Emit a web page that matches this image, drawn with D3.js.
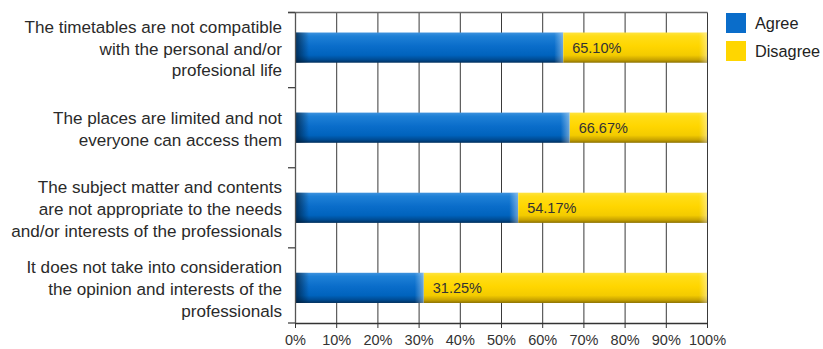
<!DOCTYPE html>
<html>
<head>
<meta charset="utf-8">
<script src="https://cdn.jsdelivr.net/npm/d3@7/dist/d3.min.js"></script>
<style>
  html, body { margin: 0; padding: 0; background: #fff; }
  svg { display: block; font-family: "Liberation Sans", Arial, Helvetica, sans-serif; }
</style>
</head>
<body>
<svg id="chart" width="823" height="349"></svg>
<script>
// Reasons, each label split into its display lines
const categories = [
  ["The timetables are not compatible", "with the personal and/or", "profesional life"],
  ["The places are limited and not", "everyone can access them"],
  ["The subject matter and contents", "are not appropriate to the needs", "and/or interests of the professionals"],
  ["It does not take into consideration", "the opinion and interests of the", "professionals"]
];
const agree = [65.10, 66.67, 54.17, 31.25];
const disagree = [34.90, 33.33, 45.83, 68.75];
const seriesNames = ["Agree", "Disagree"];
const xTicks = [0, 10, 20, 30, 40, 50, 60, 70, 80, 90, 100];

const svg = d3.select("#chart");
const keys = categories.map((c, i) => "c" + i);

const x = d3.scaleLinear().domain([0, 100]).range([295, 707]);
const y = d3.scaleBand().domain(keys).range([12.5, 323])
  .paddingInner(0.623).paddingOuter(0.25);

const rows = keys.map((k, i) => ({ key: k, lines: categories[i], agree: agree[i], disagree: disagree[i] }));
const bw = y.bandwidth();
const gap = y.step() - bw;

// ---- gradients for the shaded bars
const defs = svg.append("defs");
function vGrad(id, stops) {
  const g = defs.append("linearGradient").attr("id", id)
    .attr("x1", 0).attr("y1", 0).attr("x2", 0).attr("y2", 1);
  stops.forEach(s => g.append("stop").attr("offset", s[0]).attr("stop-color", s[1]));
}
function hGrad(id, color, o1, o2) {
  const g = defs.append("linearGradient").attr("id", id)
    .attr("x1", 0).attr("y1", 0).attr("x2", 1).attr("y2", 0);
  g.append("stop").attr("offset", 0).attr("stop-color", color).attr("stop-opacity", o1);
  g.append("stop").attr("offset", 1).attr("stop-color", color).attr("stop-opacity", o2);
}
vGrad("blueV", [[0, "#3d92de"], [0.12, "#1e80d6"], [0.45, "#0a6dca"], [0.75, "#0063bd"], [0.9, "#004b92"], [1, "#002f5c"]]);
vGrad("yellowV", [[0, "#ffe440"], [0.12, "#ffdd18"], [0.45, "#ffd600"], [0.75, "#f3cb00"], [0.9, "#c8a300"], [1, "#8a7000"]]);
hGrad("darkLeft", "#001a33", 0.75, 0);
hGrad("lightRight", "#ffffff", 0, 0.4);

// ---- vertical gridlines
svg.append("g")
  .selectAll("line").data(xTicks.filter(d => d > 0)).join("line")
  .attr("x1", d => x(d) + 0.5).attr("x2", d => x(d) + 0.5)
  .attr("y1", y.range()[0]).attr("y2", y.range()[1])
  .attr("stroke", "#3a3a3a").attr("stroke-width", 1);

// top frame line
svg.append("line")
  .attr("x1", x(0) - 7).attr("x2", x(100) + 0.5)
  .attr("y1", y.range()[0]).attr("y2", y.range()[0])
  .attr("stroke", "#6a6a6a").attr("stroke-width", 1.5);

// ---- bars
const bars = svg.append("g");
rows.forEach(r => {
  const y0 = y(r.key);
  // agree segment
  bars.append("rect").attr("x", x(0)).attr("y", y0)
    .attr("width", x(r.agree) - x(0)).attr("height", bw).attr("fill", "url(#blueV)");
  // disagree segment
  bars.append("rect").attr("x", x(r.agree)).attr("y", y0)
    .attr("width", x(r.agree + r.disagree) - x(r.agree)).attr("height", bw).attr("fill", "url(#yellowV)");
  // shading at the left edge
  bars.append("rect").attr("x", x(0)).attr("y", y0)
    .attr("width", 14).attr("height", bw).attr("fill", "url(#darkLeft)");
  // highlights at the segment ends
  bars.append("rect").attr("x", x(r.agree) - 9).attr("y", y0)
    .attr("width", 9).attr("height", bw).attr("fill", "url(#lightRight)");
  bars.append("rect").attr("x", x(r.agree + r.disagree) - 8).attr("y", y0)
    .attr("width", 8).attr("height", bw).attr("fill", "url(#lightRight)");
});

// value labels
svg.append("g").selectAll("text").data(rows).join("text")
  .attr("x", d => x(d.agree) + 9)
  .attr("y", d => y(d.key) + bw / 2)
  .attr("dy", "0.36em")
  .attr("font-size", 14.5)
  .attr("fill", "#333")
  .text(d => d.agree.toFixed(2) + "%");

// ---- left axis: line with ticks between the categories
const boundaries = [y.range()[0]]
  .concat(keys.slice(1).map(k => y(k) - gap / 2))
  .concat([y.range()[1]]);
const leftAxis = svg.append("g");
leftAxis.append("line")
  .attr("x1", x(0) + 0.5).attr("x2", x(0) + 0.5)
  .attr("y1", y.range()[0]).attr("y2", y.range()[1])
  .attr("stroke", "#555").attr("stroke-width", 1.3);
leftAxis.selectAll("line.tick").data(boundaries).join("line")
  .attr("class", "tick")
  .attr("x1", x(0) - 7).attr("x2", x(0))
  .attr("y1", d => d).attr("y2", d => d)
  .attr("stroke", "#444").attr("stroke-width", 1.3);

// category labels
const lineH = 21.8;
svg.append("g").selectAll("text").data(rows).join("text")
  .attr("text-anchor", "end")
  .attr("font-size", 17.1)
  .attr("fill", "#2a2a2a")
  .each(function (d) {
    const t = d3.select(this);
    const cy = y(d.key) + bw / 2 + 1;
    const first = cy - (d.lines.length - 1) * lineH / 2;
    d.lines.forEach((ln, j) => {
      t.append("tspan").attr("x", 282).attr("y", first + j * lineH).attr("dy", "0.35em").text(ln);
    });
  });

// ---- bottom axis
const xAxis = svg.append("g").attr("transform", `translate(0,${y.range()[1]})`)
  .call(d3.axisBottom(x).tickValues(xTicks).tickSize(5).tickSizeOuter(0).tickFormat(d => d + "%"));
xAxis.select(".domain").attr("stroke", "#333").attr("stroke-width", 1.3);
xAxis.selectAll(".tick line").attr("stroke", "#333");
xAxis.selectAll(".tick text")
  .attr("font-family", "Liberation Sans, Arial, sans-serif")
  .attr("font-size", 14.5).attr("fill", "#333").attr("dy", "0.95em");

// ---- legend
const legend = svg.append("g");
const legendColors = ["#0a6dca", "#ffd600"];
seriesNames.forEach((name, i) => {
  legend.append("rect").attr("x", 726).attr("y", 13 + i * 28)
    .attr("width", 20).attr("height", 20).attr("fill", legendColors[i]);
  legend.append("text").attr("x", 755).attr("y", 23 + i * 28).attr("dy", "0.36em")
    .attr("font-size", 16.3).attr("fill", "#222").text(name);
});
</script>
</body>
</html>
